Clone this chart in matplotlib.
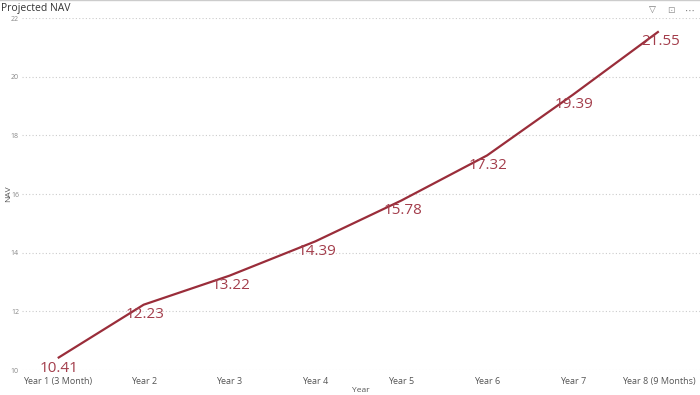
import matplotlib
matplotlib.use("Agg")
import matplotlib.pyplot as plt

plt.rcParams['font.family'] = ['Open Sans', 'DejaVu Sans']

years = ["Year 1 (3 Month)", "Year 2", "Year 3", "Year 4", "Year 5",
         "Year 6", "Year 7", "Year 8 (9 Months)"]
nav = [10.41, 12.23, 13.22, 14.39, 15.78, 17.32, 19.39, 21.55]
yticks = [10, 12, 14, 16, 18, 20, 22]

line_col = "#9a2d3a"
lab_col = "#a33d4b"

fig = plt.figure(figsize=(7, 3.95), dpi=100)
ax = fig.add_axes([0.031, 0.063, 0.969, 0.891])

xs = list(range(len(years)))
ax.plot(xs, nav, color=line_col, lw=1.6, solid_capstyle='butt')
for x, v in zip(xs, nav):
    ax.annotate(f"{v:.2f}", (x, v), xytext=(1, -2), textcoords='offset points',
                ha='center', va='top', fontsize=11, color=lab_col)

ax.set_xlim(-0.42, 7.48)
ax.set_ylim(10, 22)
ax.set_yticks(yticks)
ax.set_yticklabels([str(t) for t in yticks], fontsize=5, color="#888888")
ax.set_xticks(xs)
ax.set_xticklabels(years, fontsize=6.5, color="#555555")
ax.tick_params(length=0, pad=2)
ax.tick_params(axis='x', pad=5)
ax.grid(axis='y', color="#cccccc", linestyle=(0, (1, 2)), lw=0.8)
for s in ax.spines.values():
    s.set_visible(False)
ax.set_xlabel("Year", fontsize=6, color="#555555", labelpad=1)
ax.set_ylabel("NAV", fontsize=6, color="#555555")
ax.yaxis.set_label_coords(-0.014, 0.5)

fig.text(0.001, 0.993, "Projected NAV", fontsize=7.5, color="#333333",
         ha='left', va='top')
fig.add_artist(plt.Line2D([0, 1], [0.999, 0.999], color="#cccccc", lw=1))
fig.text(0.985, 0.985, "\u22ef", fontsize=7, color="#777777", ha='center', va='top')
fig.text(0.958, 0.985, "\u22a1", fontsize=6.5, color="#999999", ha='center', va='top',
         family=['DejaVu Sans'])
fig.text(0.932, 0.985, "\u25bd", fontsize=6.5, color="#777777", ha='center', va='top',
         family=['DejaVu Sans'])

fig.savefig("out.png", dpi=100)
